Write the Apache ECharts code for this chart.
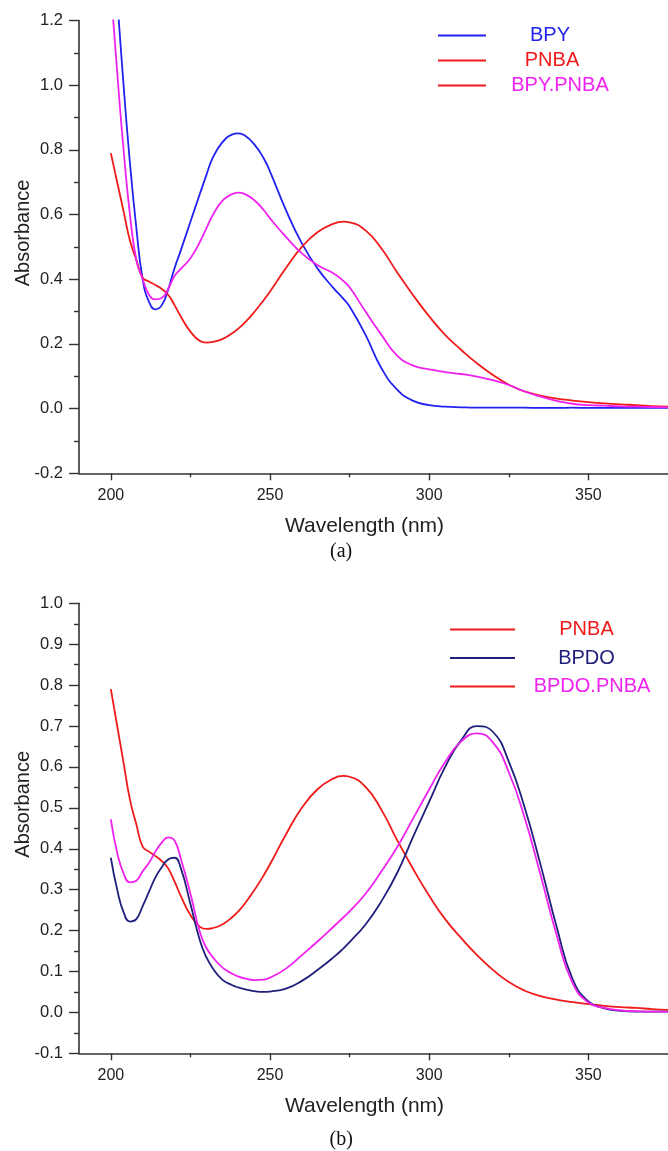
<!DOCTYPE html>
<html>
<head>
<meta charset="utf-8">
<script src="https://cdn.jsdelivr.net/npm/echarts@6/dist/echarts.min.js"></script>
<style>
html,body{margin:0;padding:0;background:#fff;}
#c{width:668px;height:1151px;}
</style>
</head>
<body>
<div id="c"></div>
<script>
// ---- data ----
const wavelengths = [200,202,204,206,208,210,212,214,216,218,220,222,225,228,230,232,235,238,240,242,245,248,250,255,260,265,270,273,275,280,285,290,295,300,305,310,315,320,325,330,335,340,345,350,355,360,365,370,375];

const BPY = [1.55,1.27,1.00,0.76,0.56,0.40,0.33,0.307,0.32,0.368,0.434,0.49,0.578,0.665,0.722,0.775,0.823,0.847,0.851,0.845,0.818,0.774,0.733,0.614,0.511,0.432,0.372,0.34,0.316,0.228,0.125,0.058,0.024,0.011,0.006,0.004,0.003,0.003,0.003,0.003,0.002,0.002,0.003,0.002,0.002,0.002,0.002,0.002,0.002];

const PNBA = [0.79,0.70,0.61,0.52,0.46,0.405,0.393,0.382,0.37,0.352,0.32,0.284,0.238,0.209,0.204,0.206,0.215,0.232,0.247,0.265,0.298,0.335,0.362,0.435,0.50,0.546,0.572,0.578,0.576,0.551,0.495,0.42,0.35,0.285,0.228,0.182,0.14,0.104,0.074,0.053,0.04,0.031,0.025,0.02,0.016,0.013,0.011,0.008,0.006];

const BPY_PNBA = [1.30,1.04,0.80,0.60,0.46,0.40,0.352,0.338,0.342,0.37,0.41,0.432,0.465,0.516,0.557,0.598,0.642,0.663,0.668,0.664,0.645,0.614,0.588,0.531,0.48,0.443,0.418,0.395,0.375,0.30,0.228,0.163,0.133,0.121,0.113,0.107,0.099,0.088,0.073,0.053,0.037,0.024,0.015,0.011,0.009,0.007,0.006,0.005,0.004];

const BPDO = [0.378,0.30,0.245,0.222,0.228,0.26,0.295,0.33,0.355,0.374,0.378,0.352,0.265,0.175,0.135,0.108,0.08,0.067,0.061,0.057,0.052,0.05,0.051,0.058,0.077,0.104,0.135,0.156,0.172,0.215,0.272,0.342,0.43,0.515,0.60,0.665,0.70,0.686,0.613,0.50,0.36,0.21,0.082,0.027,0.01,0.004,0.002,0.002,0.002];

const BPDO_PNBA = [0.472,0.39,0.34,0.318,0.322,0.345,0.366,0.393,0.415,0.428,0.42,0.375,0.29,0.195,0.158,0.135,0.11,0.095,0.088,0.083,0.079,0.08,0.085,0.107,0.14,0.174,0.21,0.232,0.247,0.29,0.345,0.405,0.475,0.545,0.612,0.662,0.682,0.66,0.587,0.475,0.335,0.19,0.072,0.024,0.011,0.005,0.003,0.002,0.002];

const xMajorTicks = [200,250,300,350];
const xMinorTicks = [225,275,325];
const legendTop = ['BPY','PNBA','BPY.PNBA'];
const legendBottom = ['PNBA','BPDO','BPDO.PNBA'];

// ---- style ----
const FONT = "'Liberation Sans', Arial, sans-serif";
const C = {blue:'#2222f0', red:'#f01a1a', magenta:'#f022f0', navy:'#20207c'};
const axisColor = '#333';

const pairs = (xs, ys) => xs.map((x,i)=>[x, ys[i]]);

function xAxes(grid){
  return [{
    type:'value', gridIndex:grid, min:190, max:375, position:'bottom',
    axisLine:{show:true, onZero:false, lineStyle:{color:axisColor, width:1.6}},
    axisTick:{show:true, customValues:xMajorTicks, length:7, lineStyle:{color:axisColor, width:1.4}},
    axisLabel:{customValues:xMajorTicks, margin:14, fontSize:16, color:'#222', fontFamily:FONT},
    splitLine:{show:false},
    name:'Wavelength (nm)', nameLocation:'middle', nameGap:42, nameMoveOverlap:false,
    nameTextStyle:{fontSize:21, color:'#222', fontFamily:FONT, padding:[0,18,0,0]}
  },{
    type:'value', gridIndex:grid, min:190, max:375, position:'bottom',
    axisLine:{show:false, onZero:false},
    axisTick:{show:true, customValues:xMinorTicks, length:4, lineStyle:{color:axisColor, width:1.4}},
    axisLabel:{show:false}, splitLine:{show:false}
  }];
}
function yAxis(grid, min, max, interval, pad){
  return {
    type:'value', gridIndex:grid, min:min, max:max, interval:interval,
    axisLine:{show:true, onZero:false, lineStyle:{color:axisColor, width:1.6}},
    axisTick:{show:true, length:10, lineStyle:{color:axisColor, width:1.4}},
    minorTick:{show:true, splitNumber:2, length:5, lineStyle:{color:axisColor, width:1.4}},
    axisLabel:{margin:16, fontSize:16.5, color:'#222', fontFamily:FONT, formatter:v=>v.toFixed(1)},
    splitLine:{show:false}, minorSplitLine:{show:false},
    name:'Absorbance', nameLocation:'middle', nameGap:46, nameMoveOverlap:false,
    nameTextStyle:{fontSize:20, color:'#222', fontFamily:FONT, padding:[0,0,0,pad]}
  };
}
function line(name, ys, color, xi, yi){
  return {name, type:'line', xAxisIndex:xi, yAxisIndex:yi, data:pairs(wavelengths, ys),
    showSymbol:false, symbol:'none', smooth:0.5, clip:true,
    lineStyle:{color, width:1.8}, itemStyle:{color}, emphasis:{disabled:true}};
}
function legend(names, iconColors, textColors, widths, left, top, itemWidth, gap){
  const rich = {};
  names.forEach((n,i)=>{ rich['k'+i] = {color:textColors[i], fontSize:20, lineHeight:20, width:widths[i], align:'center', fontFamily:FONT}; });
  return {
    orient:'vertical', left, top, padding:0, itemGap:gap, itemWidth, itemHeight:2, icon:'rect',
    selectedMode:false,
    data: names.map((n,i)=>({name:n, itemStyle:{color:iconColors[i]}})),
    formatter: n => '{k'+names.indexOf(n)+'|'+n+'}',
    textStyle:{rich, fontSize:20, fontFamily:FONT}
  };
}

const option = {
  animation:false,
  backgroundColor:'#fff',
  grid:[
    {left:79, top:20.5, width:589, height:452.8, containLabel:false, outerBoundsMode:'none'},
    {left:79, top:603.3, width:589, height:450, containLabel:false, outerBoundsMode:'none'}
  ],
  xAxis:[...xAxes(0), ...xAxes(1)],
  yAxis:[yAxis(0,-0.2,1.2,0.2,28), yAxis(1,-0.1,1.0,0.1,48)],
  legend:[
    legend(legendTop, [C.blue,C.red,C.red], [C.blue,C.red,C.magenta], [118,122,138], 438, 25.5, 48, 5),
    legend(legendBottom, [C.red,C.navy,C.red], [C.red,C.navy,C.magenta], [133,133,144], 450, 619.5, 65, 8.5)
  ],
  title:[
    {text:'(a)', left:330, top:541.5, padding:0, textStyle:{fontFamily:"'Liberation Serif','Times New Roman',serif", fontSize:20, fontWeight:'normal', color:'#111'}},
    {text:'(b)', left:329.5, top:1130, padding:0, textStyle:{fontFamily:"'Liberation Serif','Times New Roman',serif", fontSize:20, fontWeight:'normal', color:'#111'}}
  ],
  series:[
    line('BPY', BPY, C.blue, 0, 0),
    line('PNBA', PNBA, C.red, 0, 0),
    line('BPY.PNBA', BPY_PNBA, C.magenta, 0, 0),
    line('PNBA', PNBA, C.red, 2, 1),
    line('BPDO', BPDO, C.navy, 2, 1),
    line('BPDO.PNBA', BPDO_PNBA, C.magenta, 2, 1)
  ]
};
const chart = echarts.init(document.getElementById('c'), null, {renderer:'canvas'});
chart.setOption(option);
</script>
</body>
</html>
